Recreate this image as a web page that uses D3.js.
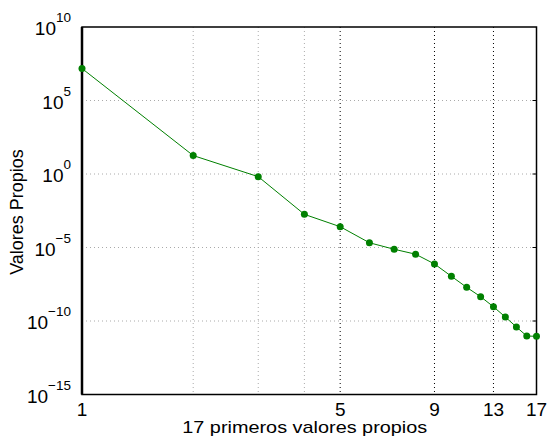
<!DOCTYPE html>
<meta charset="utf-8" />
<style>
  body {
    margin: 0;
    background: white;
    font-family: "Liberation Sans", Arial, sans-serif;
  }
</style>
<div id="container"></div>
<script src="https://d3js.org/d3.v7.min.js"></script>
<script>
  // DATA
  const indices = [1, 2, 3, 4, 5, 6, 7, 8, 9, 10, 11, 12, 13, 14, 15, 16, 17];
  const eigenvalues = [
    1.5e7, 1.8e1, 6.6e-1, 1.8e-3, 2.6e-4, 2.1e-5, 7.6e-6, 3.5e-6, 7.6e-7,
    1.1e-7, 1.95e-8, 4.5e-9, 9.3e-10, 1.86e-10, 3.9e-11, 9.5e-12, 9.1e-12,
  ];
  const xTicks = [1, 5, 9, 13, 17];
  const xMinorGrid = [2, 3, 4];
  const yExponents = [10, 5, 0, -5, -10, -15];

  const W = 548,
    H = 442;
  const margin = { top: 27, right: 11.5, bottom: 47.5, left: 82 };
  const width = W - margin.left - margin.right;
  const height = H - margin.top - margin.bottom;

  const svg = d3
    .select("#container")
    .append("svg")
    .attr("width", W)
    .attr("height", H);

  const g = svg
    .append("g")
    .attr("transform", "translate(" + margin.left + "," + margin.top + ")");

  const x = d3.scaleLog().domain([1, 17]).range([0, width]);
  const y = d3.scaleLog().domain([1e-15, 1e10]).range([height, 0]);

  // GRID
  g.selectAll(".hgrid")
    .data(yExponents.filter((e) => e > -15 && e < 10))
    .enter()
    .append("line")
    .attr("x1", 0)
    .attr("x2", width)
    .attr("y1", (e) => y(Math.pow(10, e)))
    .attr("y2", (e) => y(Math.pow(10, e)))
    .attr("stroke", "#aaa")
    .attr("stroke-width", 1)
    .attr("stroke-dasharray", "1,3");

  g.selectAll(".vminor")
    .data(xMinorGrid)
    .enter()
    .append("line")
    .attr("x1", (d) => x(d))
    .attr("x2", (d) => x(d))
    .attr("y1", 0)
    .attr("y2", height)
    .attr("stroke", "#aaa")
    .attr("stroke-width", 1)
    .attr("stroke-dasharray", "1,3");

  g.selectAll(".vmajor")
    .data(xTicks.filter((d) => d > 1 && d < 17))
    .enter()
    .append("line")
    .attr("x1", (d) => x(d))
    .attr("x2", (d) => x(d))
    .attr("y1", 0)
    .attr("y2", height)
    .attr("stroke", "black")
    .attr("stroke-width", 1)
    .attr("stroke-dasharray", "1,3");

  // AXES BOX
  g.append("rect")
    .attr("width", width)
    .attr("height", height)
    .attr("fill", "none")
    .attr("stroke", "black")
    .attr("stroke-width", 1.5);
  g.append("line")
    .attr("x1", 0)
    .attr("x2", 0)
    .attr("y1", 0)
    .attr("y2", height)
    .attr("stroke", "black")
    .attr("stroke-width", 2.5);

  // small ticks on right edge
  g.selectAll(".rtick")
    .data(yExponents.filter((e) => e > -15 && e < 10))
    .enter()
    .append("line")
    .attr("x1", width - 4)
    .attr("x2", width)
    .attr("y1", (e) => y(Math.pow(10, e)))
    .attr("y2", (e) => y(Math.pow(10, e)))
    .attr("stroke", "black");

  // Y TICK LABELS (10^n)
  const yl = g
    .selectAll(".ylab")
    .data(yExponents)
    .enter()
    .append("text")
    .attr("x", -11)
    .attr("y", (e) => y(Math.pow(10, e)) + 8)
    .attr("text-anchor", "end")
    .style("font-size", "19px")
    .style("fill", "black");
  yl.append("tspan").text("10");
  yl.append("tspan")
    .attr("dy", -13)
    .style("font-size", "13.5px")
    .text((e) => (e < 0 ? "\u2212" + -e : e));

  // X TICK LABELS
  g.selectAll(".xlab")
    .data(xTicks)
    .enter()
    .append("text")
    .attr("x", (d) => x(d))
    .attr("y", height + 21)
    .attr("text-anchor", "middle")
    .style("font-size", "19px")
    .text((d) => d);

  // AXIS TITLES
  g.append("text")
    .attr("x", width / 2 - 4.5)
    .attr("y", height + 38.5)
    .attr("text-anchor", "middle")
    .attr("textLength", 245)
    .attr("lengthAdjust", "spacingAndGlyphs")
    .style("font-size", "17px")
    .text("17 primeros valores propios");

  g.append("text")
    .attr("transform", "rotate(-90)")
    .attr("x", -(212 - margin.top))
    .attr("y", -margin.left + 23)
    .attr("text-anchor", "middle")
    .style("font-size", "18px")
    .text("Valores Propios");

  // LINE + MARKERS
  const line = d3
    .line()
    .x((d, i) => x(indices[i]))
    .y((d) => y(d));

  g.append("path")
    .attr("fill", "none")
    .attr("stroke", "#008000")
    .attr("stroke-width", 1)
    .attr("d", line(eigenvalues));

  g.selectAll(".dot")
    .data(eigenvalues)
    .enter()
    .append("circle")
    .attr("cx", (d, i) => x(indices[i]))
    .attr("cy", (d) => y(d))
    .attr("r", 3.5)
    .attr("fill", "#008000");
</script>
